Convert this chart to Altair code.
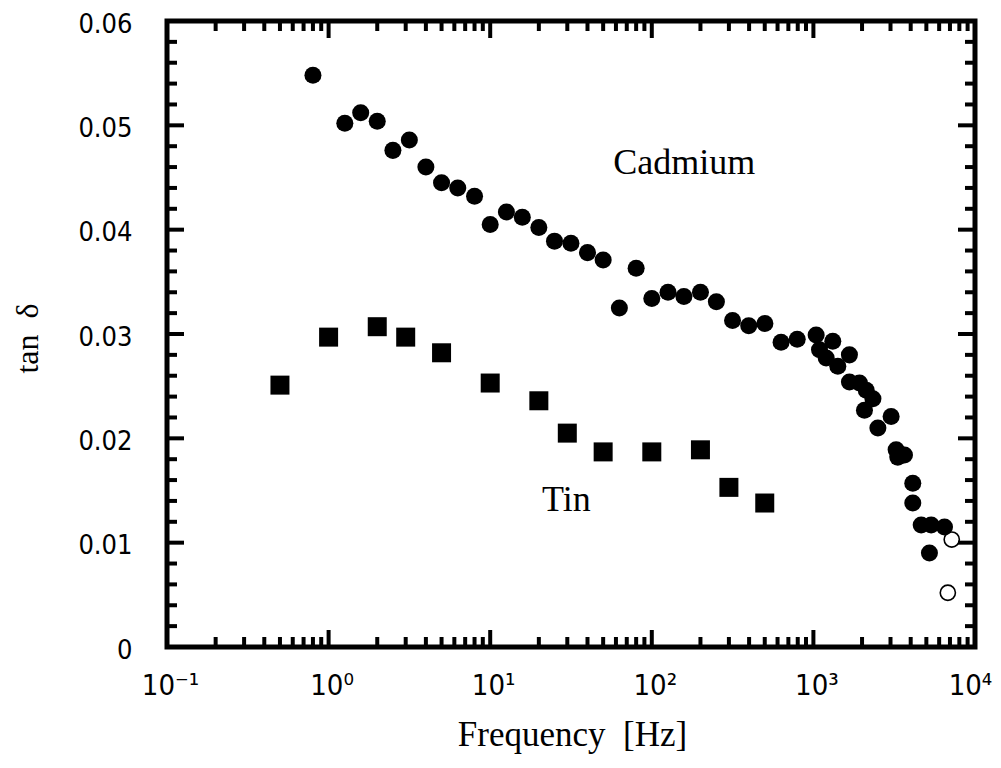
import altair as alt
import pandas as pd

# ---- data ----
cd_freq = [0.8, 1.26, 1.58, 2.0, 2.5, 3.16, 4.0, 5.0, 6.3, 8.0,
           10, 12.6, 15.8, 20, 25, 31.6, 40, 50, 63, 80,
           100, 126, 158, 200, 251, 316, 398, 501, 631, 794,
           1040, 1318, 1091, 1200, 1416, 1671, 1671, 1928, 2123, 2335,
           2070, 2506, 3027, 3251, 3661, 3326, 4121, 4121, 4645, 5355,
           6475, 5224]
cd_tan = [0.0548, 0.0502, 0.0512, 0.0504, 0.0476, 0.0486, 0.0460, 0.0445, 0.0440, 0.0432,
          0.0405, 0.0417, 0.0412, 0.0402, 0.0389, 0.0387, 0.0378, 0.0371, 0.0325, 0.0363,
          0.0334, 0.0340, 0.0336, 0.0340, 0.0331, 0.0313, 0.0308, 0.0310, 0.0292, 0.0295,
          0.0299, 0.0293, 0.0285, 0.0277, 0.0269, 0.0280, 0.0254, 0.0253, 0.0246, 0.0238,
          0.0227, 0.0210, 0.0221, 0.0189, 0.0184, 0.0182, 0.0157, 0.0138, 0.0117, 0.0117,
          0.0115, 0.0090]

cd_open_freq = [7180, 6790]
cd_open_tan = [0.0103, 0.0052]

tin_freq = [0.5, 1, 2, 3, 5, 10, 20, 30, 50, 100, 200, 300, 500]
tin_tan = [0.0251, 0.0297, 0.0307, 0.0297, 0.0282, 0.0253, 0.0236, 0.0205, 0.0187,
           0.0187, 0.0189, 0.0153, 0.0138]

label_text = ["Cadmium", "Tin"]
label_freq = [159, 29.6]
label_tan = [0.0464, 0.0141]

x_major = [0.1, 1, 10, 100, 1000, 10000]
x_minor = [m * 10.0 ** k for k in range(-1, 4) for m in range(2, 10)]
y_major = [0, 0.01, 0.02, 0.03, 0.04, 0.05, 0.06]
y_minor = [round(i * 0.002, 4) for i in range(31) if i % 5]

W, H = 808, 626
MAJ, MIN = 17, 10

xs = alt.Scale(type="log", domain=[0.1, 10000], nice=False)
ys = alt.Scale(domain=[0, 0.06], nice=False, zero=False)

df_cd = pd.DataFrame({"freq": cd_freq, "tan": cd_tan})
df_open = pd.DataFrame({"freq": cd_open_freq, "tan": cd_open_tan})
df_tin = pd.DataFrame({"freq": tin_freq, "tan": tin_tan})
df_lab = pd.DataFrame({"text": label_text, "freq": label_freq, "tan": label_tan})

LABEL_FONT = "Liberation Sans Narrow, DejaVu Sans Condensed, Liberation Sans"
SERIF = "Liberation Serif"

x_label_expr = ("datum.value < 0.5 ? '10⁻¹' : datum.value < 5 ? '10⁰' : "
                "datum.value < 50 ? '10¹' : datum.value < 500 ? '10²' : "
                "datum.value < 5000 ? '10³' : '10⁴'")

x_axis = alt.Axis(values=x_major, labelExpr=x_label_expr, ticks=False, domain=False,
                  grid=False, labelPadding=24, labelFont=LABEL_FONT, labelFontSize=29,
                  labelColor="black", labelFlush=False, labelOverlap=False,
                  labelOffset={"condition": {"test": "datum.value > 5000", "value": -5},
                               "value": 3},
                  title="Frequency\u00a0\u00a0[Hz]", titleFont=SERIF, titleFontSize=35,
                  titleFontWeight="normal", titleColor="black",
                  titleX=405, titleY=98, titleBaseline="alphabetic", titleAlign="center")
y_axis = alt.Axis(values=y_major,
                  labelExpr="datum.value == 0 ? '0' : format(datum.value, '.2f')",
                  ticks=False, domain=False, grid=False, labelPadding=35,
                  labelFont=LABEL_FONT, labelFontSize=27, labelColor="black",
                  labelBaseline="alphabetic", labelOffset=11,
                  labelFlush=False, labelOverlap=False,
                  title="tan\u00a0\u00a0δ", titleFont=SERIF, titleFontSize=32,
                  titleFontWeight="normal", titleColor="black",
                  titleX=-130, titleY=317, titleBaseline="alphabetic", titleAlign="center",
                  titleAngle=270)

cd = alt.Chart(df_cd).mark_circle(size=290, color="black", opacity=1).encode(
    x=alt.X("freq:Q", scale=xs, axis=x_axis),
    y=alt.Y("tan:Q", scale=ys, axis=y_axis),
)
cd_open = alt.Chart(df_open).mark_point(shape="circle", filled=False, size=230,
                                        color="black", strokeWidth=1.6, opacity=1).encode(
    x="freq:Q", y="tan:Q")
tin = alt.Chart(df_tin).mark_square(size=361, color="black", opacity=1).encode(
    x="freq:Q", y="tan:Q")
labels = alt.Chart(df_lab).mark_text(font=SERIF, fontSize=36, color="black",
                                     align="center", baseline="middle").encode(
    x="freq:Q", y="tan:Q", text="text:N")

frame = alt.Chart(pd.DataFrame({"k": [0]})).mark_rect(
    filled=False, stroke="black", strokeWidth=5, fillOpacity=0).encode(
    x=alt.value(0), x2=alt.value(W), y=alt.value(0), y2=alt.value(H))


def xticks(vals, length):
    d = pd.DataFrame({"freq": vals})
    bot = alt.Chart(d).mark_rule(color="black", strokeWidth=4).encode(
        x="freq:Q", y=alt.value(H), y2=alt.value(H - length))
    top = alt.Chart(d).mark_rule(color="black", strokeWidth=4).encode(
        x="freq:Q", y=alt.value(0), y2=alt.value(length))
    return [bot, top]


def yticks(vals, length):
    d = pd.DataFrame({"tan": vals})
    left = alt.Chart(d).mark_rule(color="black", strokeWidth=4).encode(
        y="tan:Q", x=alt.value(0), x2=alt.value(length))
    right = alt.Chart(d).mark_rule(color="black", strokeWidth=4).encode(
        y="tan:Q", x=alt.value(W), x2=alt.value(W - length))
    return [left, right]


tick_layers = (xticks(x_major, MAJ) + xticks(x_minor, MIN) +
               yticks(y_major, MAJ) + yticks(y_minor, MIN))

chart = alt.layer(cd, cd_open, tin, labels, frame, *tick_layers).properties(
    width=W, height=H,
    autosize=alt.AutoSizeParams(type="none"),
    padding={"left": 159, "top": 13, "right": 18, "bottom": 108},
).configure_view(stroke=None).configure(background="white")

chart.save("out.html", embed_options={"renderer": "svg", "actions": False})
